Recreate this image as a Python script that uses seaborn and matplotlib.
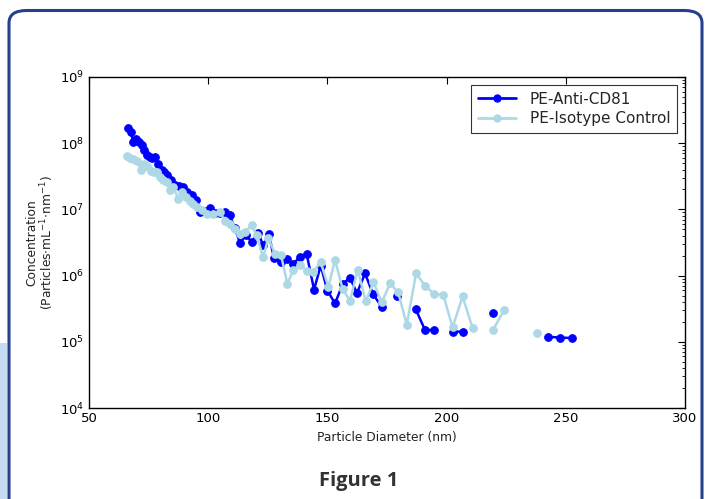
import numpy as np
import pandas as pd
import matplotlib
matplotlib.use("Agg")
import matplotlib.pyplot as plt
import seaborn as sns
from matplotlib.lines import Line2D
from matplotlib.patches import FancyBboxPatch, Rectangle

# ---------------- data ----------------
series_names = ["PE-Anti-CD81", "PE-Isotype Control"]

anti_x = [66.5, 67.5, 68.6, 69.7, 71.0, 72.1, 73.2, 74.5, 75.6, 76.6,
          77.7, 79.1, 80.5, 81.6, 82.8, 84.3, 86.1, 87.8, 89.6, 91.0,
          93.1, 94.8, 96.6, 98.7, 100.8, 102.9, 104.9, 107.0, 109.1, 111.2,
          113.3, 115.9, 118.2, 121.0, 123.1, 125.5, 127.6, 130.4, 133.2, 135.7,
          138.5, 141.3, 144.4, 147.2, 150.0, 153.2, 156.5, 159.5, 162.4, 165.8,
          169.1, 172.8, 175.8, 179.3, 183.0, 187.0, 190.9, 194.7, 198.5, 202.8,
          206.8, 211.0, 219.6, 230.0, 242.7, 247.6, 252.5]
anti_y = [1.67e8, 1.48e8, 1.03e8, 1.14e8, 1.03e8, 9.55e7, 7.83e7, 6.58e7, 6.19e7, 6.03e7,
          6.19e7, 4.81e7, 4.00e7, 3.67e7, 3.27e7, 2.75e7, 2.31e7, 2.23e7, 2.18e7, 1.83e7,
          1.63e7, 1.40e7, 9.10e6, 9.33e6, 1.06e7, 8.85e6, 8.71e6, 9.02e6, 8.20e6, 5.15e6,
          3.13e6, 4.04e6, 3.24e6, 4.38e6, 2.85e6, 4.18e6, 1.83e6, 1.59e6, 1.79e6, 1.50e6,
          1.94e6, 2.13e6, 6.14e5, 1.42e6, 5.93e5, 3.80e5, 7.57e5, 9.23e5, 5.43e5, 1.08e6,
          5.28e5, 3.36e5, np.nan, 4.98e5, np.nan, 3.13e5, 1.52e5, 1.50e5, np.nan, 1.43e5,
          1.42e5, np.nan, 2.69e5, np.nan, 1.19e5, 1.16e5, 1.14e5]

iso_x = [65.8, 67.2, 68.6, 70.3, 71.7, 73.1, 74.5, 75.9, 77.3, 78.6,
         79.8, 81.2, 82.6, 84.0, 85.4, 87.5, 88.9, 90.7, 92.4, 93.8,
         95.4, 97.3, 99.4, 102.1, 104.9, 107.0, 109.1, 111.2, 113.3, 115.4,
         118.2, 120.3, 123.1, 125.2, 128.0, 130.5, 133.2, 135.7, 138.5, 141.3,
         144.1, 147.2, 150.4, 153.2, 156.4, 159.5, 162.7, 166.1, 169.3, 172.8,
         176.3, 179.7, 183.3, 187.2, 190.9, 194.7, 198.6, 202.5, 206.7, 210.9,
         215.0, 219.6, 224.1, 229.0, 237.8]
iso_y = [6.43e7, 6.07e7, 5.73e7, 5.40e7, 4.00e7, 4.81e7, 4.49e7, 3.80e7, 3.67e7, 3.67e7,
         3.08e7, 2.75e7, 2.59e7, 1.94e7, 2.18e7, 1.42e7, 1.83e7, 1.53e7, 1.34e7, 1.22e7,
         1.08e7, 9.66e6, 8.61e6, 8.61e6, 9.10e6, 6.65e6, 6.07e6, 5.11e6, 4.29e6, 4.53e6,
         5.73e6, 4.04e6, 1.89e6, 3.72e6, 2.13e6, 2.08e6, 7.48e5, 1.22e6, 1.45e6, 1.19e6,
         1.15e6, 1.59e6, 6.70e5, 1.73e6, 6.28e5, 4.18e5, 1.23e6, 4.08e5, 7.91e5, 3.94e5,
         7.64e5, 5.58e5, 1.81e5, 1.08e6, 7.05e5, 5.28e5, 5.11e5, 1.65e5, 4.85e5, 1.61e5,
         np.nan, 1.53e5, 3.02e5, np.nan, 1.38e5]

x_ticks = [50, 100, 150, 200, 250, 300]
colors = {"PE-Anti-CD81": "#0000ff", "PE-Isotype Control": "#add8e6"}


def to_frame(name, xs, ys):
    rows = []
    seg = 0
    for xv, yv in zip(xs, ys):
        if np.isnan(yv):
            seg += 1
            continue
        rows.append({"x": xv, "y": yv, "series": name, "seg": f"{name}-{seg}"})
    return pd.DataFrame(rows)


df = pd.concat([to_frame(series_names[0], anti_x, anti_y),
                to_frame(series_names[1], iso_x, iso_y)], ignore_index=True)

# ---------------- figure ----------------
sns.set_style("white")
plt.rcParams["font.family"] = ["DejaVu Sans"]
plt.rcParams["mathtext.fontset"] = "dejavusans"

fig = plt.figure(figsize=(7.05, 4.99), dpi=100)
fig.patch.set_facecolor("white")

# decorative frame
fig.patches.append(Rectangle((0, 0), 7 / 705, 156 / 499, transform=fig.transFigure,
                             facecolor="#c6dcf0", edgecolor="none", zorder=0))
fig.patches.append(FancyBboxPatch((9 / 705, -0.1), (702 - 9) / 705, 1.1 - 10.5 / 499,
                                  boxstyle="round,pad=0,rounding_size=0.025",
                                  transform=fig.transFigure, facecolor="none",
                                  edgecolor="#26408f", linewidth=2.2, zorder=1))

ax = fig.add_axes([89 / 705, 1 - 408 / 499, (685 - 89) / 705, (408 - 77) / 499])

for name in series_names:
    sub = df[df["series"] == name]
    sns.lineplot(data=sub, x="x", y="y", units="seg", estimator=None, sort=False,
                 color=colors[name], marker="o", markersize=5.5,
                 markeredgecolor=colors[name], linewidth=1.8, ax=ax, legend=False)

ax.set_yscale("log")
ax.set_xlim(50, 300)
ax.set_ylim(1e4, 1e9)
ax.set_xticks(x_ticks)
ax.set_xticklabels([str(t) for t in x_ticks])

for s in ax.spines.values():
    s.set_color("black")
    s.set_linewidth(1.0)
ax.tick_params(which="both", direction="in", top=True, right=True, colors="black",
               labelsize=9.5)
ax.tick_params(which="major", length=5, width=0.8)
ax.tick_params(which="minor", length=2.5, width=0.6)
ax.tick_params(axis="x", pad=3)

ax.set_xlabel("Particle Diameter (nm)", fontsize=8.8, color="#222222", labelpad=4)
ax.set_ylabel("Concentration\n(Particles$\\cdot$mL$^{-1}$$\\cdot$nm$^{-1}$)",
              fontsize=8.8, color="#222222", labelpad=3, linespacing=1.0)

handles = [Line2D([], [], color=colors[n], marker="o", markersize=5, linewidth=2,
                  markeredgecolor=colors[n]) for n in series_names]
leg = ax.legend(handles, series_names, loc="upper right", fontsize=11,
                frameon=True, fancybox=False, borderaxespad=0.5,
                handlelength=2.5, handletextpad=0.9, borderpad=0.45, labelspacing=0.3)
leg.get_frame().set_edgecolor("black")
leg.get_frame().set_linewidth(0.8)

fig.text(359 / 705, 1 - 481 / 499, "Figure 1", ha="center", va="center",
         fontsize=14.5, fontweight="bold", family="Open Sans", color="#333333")

fig.savefig("out.png", dpi=100)
